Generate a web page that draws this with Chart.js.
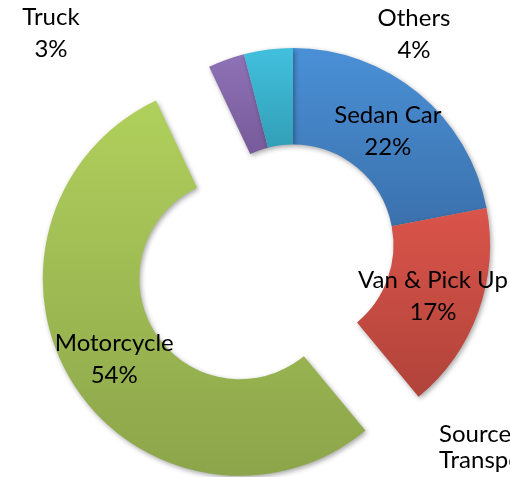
<!DOCTYPE html>
<html>
<head>
<meta charset="utf-8">
<script src="https://cdn.jsdelivr.net/npm/chart.js@4.4.1/dist/chart.umd.min.js"></script>
<style>
  html, body { margin: 0; padding: 0; background: #fff; }
  #wrap { width: 510px; height: 477px; position: relative; }
</style>
</head>
<body>
<div id="wrap"><canvas id="chart1"></canvas></div>
<script>
const categories = ["Sedan Car", "Van & Pick Up", "Motorcycle", "Truck", "Others"];
const shares = [22, 17, 54, 3, 4];
const sourceLines = ["Source:", "Transport"];

// look: top / bottom gradient stops, explode distance, outside label spots
const topColors = ["#4a90d6", "#da544a", "#b0d05c", "#8e72b6", "#41c0de"];
const bottomColors = ["#3b71ad", "#b0433a", "#8ca54a", "#765a99", "#339fb7"];
const explode = [0, 0, 63, 0, 0];
const outsideLabel = [null, null, null, { x: 51, y: 25 }, { x: 414, y: 26 }];
const labelFont = "24px Lato";

const cht1 = document.getElementById("chart1");

const explodePlugin = {
  id: "explode",
  afterDatasetsUpdate(chart) {
    chart.getDatasetMeta(0).data.forEach((arc, i) => {
      const d = explode[i];
      if (!d) return;
      const mid = (arc.startAngle + arc.endAngle) / 2;
      arc.x += Math.cos(mid) * d;
      arc.y += Math.sin(mid) * d;
    });
  },
};

const shadePlugin = {
  id: "shade",
  beforeDatasetsDraw(chart) {
    const ctx = chart.ctx;
    chart.getDatasetMeta(0).data.forEach((arc, i) => {
      // vertical extent of the slice, for an Excel-like gradient
      let minY = Infinity, maxY = -Infinity;
      for (let k = 0; k <= 40; k++) {
        const a = arc.startAngle + (arc.endAngle - arc.startAngle) * k / 40;
        [arc.innerRadius, arc.outerRadius].forEach((r) => {
          const y = arc.y + Math.sin(a) * r;
          minY = Math.min(minY, y);
          maxY = Math.max(maxY, y);
        });
      }
      const g = ctx.createLinearGradient(0, minY, 0, maxY);
      g.addColorStop(0, topColors[i]);
      g.addColorStop(1, bottomColors[i]);
      arc.options.backgroundColor = g;
    });
    ctx.save();
    ctx.shadowColor = "rgba(0,0,0,0.35)";
    ctx.shadowBlur = 5;
    ctx.shadowOffsetX = 1.5;
    ctx.shadowOffsetY = 2;
  },
  afterDatasetsDraw(chart) {
    const ctx = chart.ctx;
    ctx.restore();

    ctx.save();
    ctx.font = labelFont;
    ctx.fillStyle = "#000";
    ctx.textAlign = "center";
    ctx.textBaseline = "alphabetic";
    chart.getDatasetMeta(0).data.forEach((arc, i) => {
      const pct = shares[i] + "%";
      if (outsideLabel[i]) {
        const p = outsideLabel[i];
        ctx.fillText(categories[i], p.x, p.y);
        ctx.fillText(pct, p.x, p.y + 32);
      } else {
        const p = arc.tooltipPosition();
        ctx.fillText(categories[i], p.x, p.y - 7);
        ctx.fillText(pct, p.x, p.y + 25);
      }
    });
    ctx.textAlign = "left";
    ctx.fillText(sourceLines[0], 439, 442);
    ctx.fillText(sourceLines[1], 439, 468);
    ctx.restore();
  },
};

new Chart(cht1, {
  type: "doughnut",
  data: {
    labels: categories,
    datasets: [
      {
        data: shares,
        backgroundColor: topColors,
        borderWidth: 0,
        clip: false,
      },
    ],
  },
  options: {
    responsive: true,
    maintainAspectRatio: false,
    animation: false,
    radius: 197,
    cutout: "51%",
    layout: { padding: { left: 76, right: 0, top: 13, bottom: 0 } },
    plugins: {
      legend: { display: false },
      tooltip: { enabled: false },
    },
    events: [],
  },
  plugins: [explodePlugin, shadePlugin],
});
</script>
</body>
</html>
